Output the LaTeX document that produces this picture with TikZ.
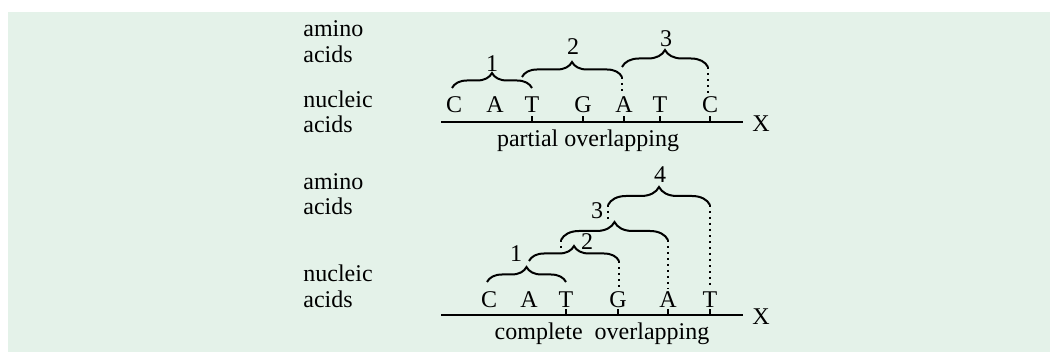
\documentclass[tikz,border=0pt]{standalone}
\usepackage{fontspec}
\setmainfont{Liberation Serif}
\usetikzlibrary{decorations.pathreplacing, positioning}
\definecolor{panelgreen}{RGB}{228,242,233}

\begin{document}
\begin{tikzpicture}[x=0.5pt, y=-0.5pt, font=\fontsize{12}{14}\selectfont,
   base/.style={inner sep=1pt, anchor=base},
   side/.style={inner sep=0pt, anchor=base west},
   axis/.style={line width=1.4pt},
   tick/.style={line width=0.7pt},
   brace/.style={decorate, decoration={brace, amplitude=#1}, line width=1pt},
   brace/.default=7.5pt,
   guide/.style={line width=1pt, dash pattern=on 0.9pt off 2.1pt}]
   \useasboundingbox (0,0) rectangle (1050,352);
   \fill[panelgreen] (8,12) rectangle (1050,352);

   % partial overlapping
   \node[side] (pam_1) at (303,37)  {amino};
   \node[side] (pam_2) at (303,63)  {acids};
   \node[side] (pnu_1) at (303,108) {nucleic};
   \node[side] (pnu_2) at (303,133) {acids};

   \node[base] (p_1) at (454,113) {C};
   \node[base] (p_2) at (495,113) {A};
   \node[base] (p_3) at (532,113) {T};
   \node[base] (p_4) at (583,113) {G};
   \node[base] (p_5) at (624,113) {A};
   \node[base] (p_6) at (660,113) {T};
   \node[base] (p_7) at (710,113) {C};

   \coordinate (px_0) at (441,122);
   \coordinate (px_1) at (743,122);
   \draw[axis] (px_0) -- (px_1);
   \node[side] (pX) at (752,132) {X};
   \foreach \n in {p_3, p_4, p_5, p_6, p_7}
      \draw[tick] (\n |- px_0) -- ++(0,-6);
   \node[base] (plab) at (588,147) {partial overlapping};

   \coordinate (pb1_l) at (452,88);  \coordinate (pb1_r) at (532,88);
   \coordinate (pb2_l) at (522,77);  \coordinate (pb2_r) at (622,77);
   \coordinate (pb3_l) at (622,67);  \coordinate (pb3_r) at (708,67);
   \draw[brace] (pb1_l) -- (pb1_r);
   \draw[brace] (pb2_l) -- (pb2_r);
   \draw[brace=8.5pt] (pb3_l) -- (pb3_r);
   \node[base] (pn_1) at (492,72) {1};
   \node[base] (pn_2) at (573,55) {2};
   \node[base] (pn_3) at (666,47) {3};
   \draw[guide] (pb2_r) -- (pb2_r |- p_5.north);
   \draw[guide] (pb3_r) -- (pb3_r |- p_7.north);

   % complete overlapping
   \node[side] (cam_1) at (303,190) {amino};
   \node[side] (cam_2) at (303,215) {acids};
   \node[side] (cnu_1) at (303,282) {nucleic};
   \node[side] (cnu_2) at (303,307) {acids};

   \node[base] (c_1) at (489,307) {C};
   \node[base] (c_2) at (529,307) {A};
   \node[base] (c_3) at (566,307) {T};
   \node[base] (c_4) at (618,307) {G};
   \node[base] (c_5) at (668,307) {A};
   \node[base] (c_6) at (710,307) {T};

   \coordinate (cx_0) at (441,315);
   \coordinate (cx_1) at (743,315);
   \draw[axis] (cx_0) -- (cx_1);
   \node[side] (cX) at (752,325) {X};
   \foreach \n in {c_3, c_4, c_5, c_6}
      \draw[tick] (\n |- cx_0) -- ++(0,-6);
   \node[base] (clab) at (602,340) {complete\ \ overlapping};

   \coordinate (cb1_l) at (487,282); \coordinate (cb1_r) at (566,282);
   \coordinate (cb2_l) at (529,261); \coordinate (cb2_r) at (619,261);
   \coordinate (cb3_l) at (561,240); \coordinate (cb3_r) at (668,240);
   \coordinate (cb4_l) at (608,205); \coordinate (cb4_r) at (710,205);
   \draw[brace] (cb1_l) -- (cb1_r);
   \draw[brace] (cb2_l) -- (cb2_r);
   \draw[brace=9pt] (cb3_l) -- (cb3_r);
   \draw[brace=9pt] (cb4_l) -- (cb4_r);
   \node[base] (cn_1) at (516,262) {1};
   \node[base] (cn_2) at (587,250) {2};
   \node[base] (cn_3) at (597,219) {3};
   \node[base] (cn_4) at (660,183) {4};
   \draw[guide] (cb2_r) -- (cb2_r |- c_4.north);
   \draw[guide] (cb3_r) -- (cb3_r |- c_5.north);
   \draw[guide] (cb4_r) -- (cb4_r |- c_6.north);
   \draw[guide] (cb3_l) -- ++(0,12);
   \draw[guide] (cb4_l) -- ++(0,14);
\end{tikzpicture}
\end{document}
